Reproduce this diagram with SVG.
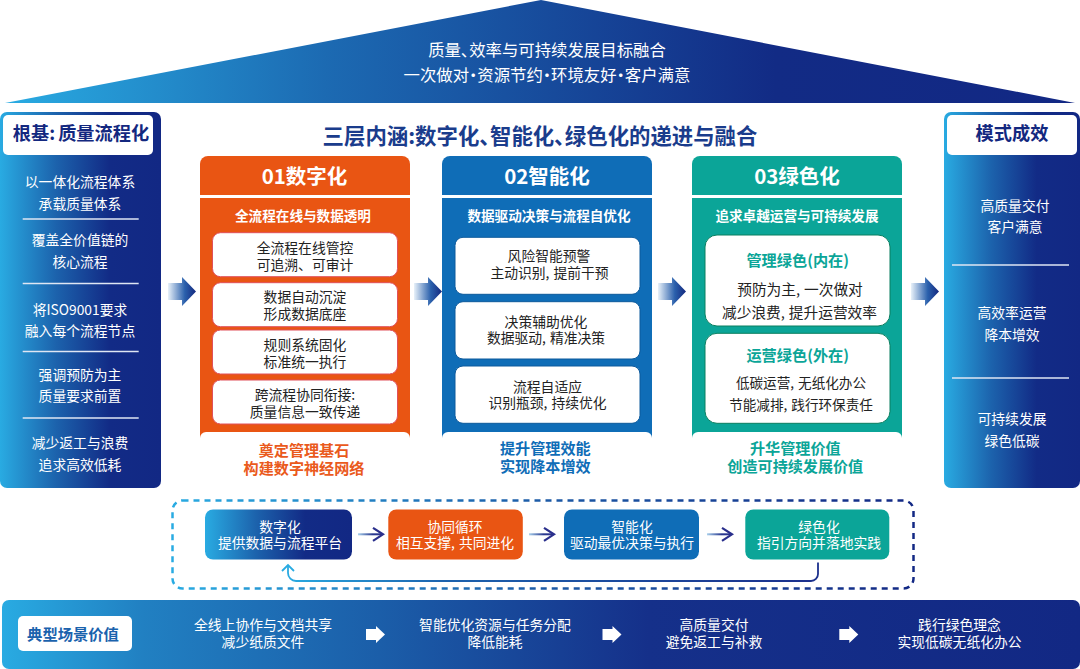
<svg xmlns="http://www.w3.org/2000/svg" width="1080" height="669" viewBox="0 0 1080 669">
<style>
text{font-family:"Noto Sans CJK SC","Noto Sans",sans-serif;text-anchor:middle}
.w13{font-size:13.800px;fill:#fff}
.k13{font-size:13.800px;fill:#222}
.k15{font-size:14.700px;fill:#222}
.k14{font-size:13.600px;fill:#222}
.h20{font-size:20.500px;font-weight:700;fill:#fff}
.s13{font-size:13.600px;font-weight:700;fill:#fff}
.f14{font-size:15.100px;font-weight:700}
.g15{font-size:15.200px;font-weight:700;fill:#0ba598}
.hd{font-size:18.200px;font-weight:700;fill:#13287f}
.roof{font-size:16.400px;fill:#fff;font-feature-settings:"palt"}
.c{letter-spacing:4px}
.box{fill:#fff;stroke-width:1}
.div{stroke:#dfe6f3;stroke-width:1.500}
</style>
<defs>
<linearGradient id="roof" x1="0" x2="1" y1="0" y2="0"><stop offset="0" stop-color="#29abe2"/><stop offset=".3" stop-color="#1c6ab2"/><stop offset=".72" stop-color="#122b85"/><stop offset="1" stop-color="#122884"/></linearGradient>
<linearGradient id="panel" x1="0" x2="1" y1="0" y2="0"><stop offset="0" stop-color="#29abe2"/><stop offset=".35" stop-color="#1c62ac"/><stop offset=".68" stop-color="#122b86"/><stop offset="1" stop-color="#122884"/></linearGradient>
<linearGradient id="band" x1="0" x2="1" y1="0" y2="0"><stop offset="0" stop-color="#29abe2"/><stop offset=".13" stop-color="#2180c2"/><stop offset=".35" stop-color="#1b5ea9"/><stop offset=".6" stop-color="#15308a"/><stop offset="1" stop-color="#122884"/></linearGradient>
<linearGradient id="dash" gradientUnits="userSpaceOnUse" x1="172" x2="915" y1="0" y2="0"><stop offset="0" stop-color="#29abe2"/><stop offset=".5" stop-color="#1c5aa6"/><stop offset="1" stop-color="#122884"/></linearGradient>
<linearGradient id="loop" gradientUnits="userSpaceOnUse" x1="285" x2="820" y1="0" y2="0"><stop offset="0" stop-color="#29abe2"/><stop offset=".3" stop-color="#1c62ad"/><stop offset="1" stop-color="#1b2f8c"/></linearGradient>
<linearGradient id="arr" x1="0" x2="1" y1="0" y2="0"><stop offset="0" stop-color="#e8f1f9"/><stop offset=".6" stop-color="#2a60ac"/><stop offset="1" stop-color="#14287f"/></linearGradient>
<linearGradient id="thin" x1="0" x2="1" y1="0" y2="0"><stop offset="0" stop-color="#a8d0ec"/><stop offset=".6" stop-color="#2a3a90"/><stop offset="1" stop-color="#2a2f8c"/></linearGradient>
<path id="bigArrow" d="M0,-8.500H14V-14.500L28,0L14,14.500V8.500H0Z" fill="url(#arr)"/>
<path id="whiteArrow" d="M0,-5.500H10V-8.500L19,0L10,8.500V5.500H0Z" fill="#fff"/>
<g id="thinArrow"><path d="M0,-1H24V1H0Z" fill="url(#thin)"/><path d="M15,-6.500L25,0L15,6.500" fill="none" stroke="#2a2f8c" stroke-width="2.200"/></g>
</defs>

<g id="roof-node">
<path d="M5,103L541,0L1075,103Z" fill="url(#roof)"/>
<text class="roof" x="547" y="55.500">质量、效率与可持续发展目标融合</text>
<text class="roof" x="547" y="80.500">一次做对·资源节约·环境友好·客户满意</text>
</g>

<text id="title" x="540" y="143.500" style="font-size:21.400px;font-weight:700;fill:#1a3c8c;font-feature-settings:'palt'">三层内涵:数字化、智能化、绿色化的递进与融合</text>

<g id="left-panel">
<rect x="0" y="112" width="161" height="376" rx="7" fill="url(#panel)"/>
<rect x="3" y="115" width="150" height="40" rx="5" fill="#fff"/>
<text class="hd" x="81" y="140">根基<tspan style="letter-spacing:3px">:</tspan>质量流程化</text>
<text class="w13" x="80" y="187">以一体化流程体系</text><text class="w13" x="80" y="209">承载质量体系</text>
<line class="div" x1="22.700" x2="138.700" y1="219" y2="219"/>
<text class="w13" x="80" y="245">覆盖全价值链的</text><text class="w13" x="80" y="267">核心流程</text>
<line class="div" x1="22.700" x2="138.700" y1="283.500" y2="283.500"/>
<text class="w13" x="80" y="314.500">将ISO9001要求</text><text class="w13" x="80" y="336">融入每个流程节点</text>
<line class="div" x1="22.700" x2="138.700" y1="351.500" y2="351.500"/>
<text class="w13" x="80" y="379.500">强调预防为主</text><text class="w13" x="80" y="401">质量要求前置</text>
<line class="div" x1="22.700" x2="138.700" y1="418" y2="418"/>
<text class="w13" x="80" y="448">减少返工与浪费</text><text class="w13" x="80" y="469.500">追求高效低耗</text>
</g>

<g id="right-panel">
<rect x="944" y="112" width="136" height="376" rx="7" fill="url(#panel)"/>
<rect x="947" y="115" width="130" height="40" rx="5" fill="#fff"/>
<text class="hd" x="1012" y="139.500">模式成效</text>
<text class="w13" x="1015" y="210.500">高质量交付</text><text class="w13" x="1015" y="232">客户满意</text>
<line class="div" x1="952" x2="1069" y1="265" y2="265"/>
<text class="w13" x="1012" y="318">高效率运营</text><text class="w13" x="1012" y="340">降本增效</text>
<line class="div" x1="952" x2="1069" y1="378" y2="378"/>
<text class="w13" x="1012" y="424">可持续发展</text><text class="w13" x="1012" y="446">绿色低碳</text>
</g>

<g id="card-01">
<path d="M200,195V164a8,8 0 0 1 8,-8H402a8,8 0 0 1 8,8V195Z" fill="#e95513"/>
<rect x="200" y="198" width="210" height="240" fill="#e95513"/>
<text class="h20" x="304.500" y="183.500">01数字化</text>
<text class="s13" x="303" y="221">全流程在线与数据透明</text>
<rect class="box" x="212.500" y="232.700" width="185" height="44" rx="8" stroke="#e0505a"/>
<text class="k13" x="305" y="253">全流程在线管控</text><text class="k13" x="305" y="269.500">可追溯、可审计</text>
<rect class="box" x="212.500" y="282.700" width="185" height="44" rx="8" stroke="#e0505a"/>
<text class="k13" x="305" y="302">数据自动沉淀</text><text class="k13" x="305" y="318.500">形成数据底座</text>
<rect class="box" x="212.500" y="330" width="185" height="44" rx="8" stroke="#e0505a"/>
<text class="k13" x="305" y="350">规则系统固化</text><text class="k13" x="305" y="367">标准统一执行</text>
<rect class="box" x="212.500" y="380" width="185" height="44" rx="8" stroke="#e0505a"/>
<text class="k13" x="305" y="400">跨流程协同衔接:</text><text class="k13" x="305" y="417">质量信息一致传递</text>
<path d="M200,438V442H410V438a6,6 0 0 0 -6,-6H206a6,6 0 0 0 -6,6Z" fill="#fff"/>
<text class="f14" x="304" y="455.500" fill="#ea5a1c">奠定管理基石</text><text class="f14" x="304" y="473.500" fill="#ea5a1c">构建数字神经网络</text>
</g>

<g id="card-02">
<path d="M442,195V164a8,8 0 0 1 8,-8H644a8,8 0 0 1 8,8V195Z" fill="#0f6db7"/>
<rect x="442" y="198" width="210" height="240" fill="#0f6db7"/>
<text class="h20" x="547" y="183.500">02智能化</text>
<text class="s13" x="549" y="221">数据驱动决策与流程自优化</text>
<rect class="box" x="455" y="237.300" width="185" height="57" rx="8" stroke="#0d5a9c"/>
<text class="k13" x="549" y="261">风险智能预警</text><text class="k13" x="549.500" y="277.500">主动识别<tspan class="c">,</tspan>提前干预</text>
<rect class="box" x="455" y="301.700" width="185" height="57.300" rx="8" stroke="#0d5a9c"/>
<text class="k13" x="546" y="326.500">决策辅助优化</text><text class="k13" x="546" y="343">数据驱动<tspan class="c">,</tspan>精准决策</text>
<rect class="box" x="455" y="366" width="185" height="57.300" rx="8" stroke="#0d5a9c"/>
<text class="k13" x="547.500" y="391.500">流程自适应</text><text class="k13" x="547.500" y="408">识别瓶颈<tspan class="c">,</tspan>持续优化</text>
<path d="M442,438V442H652V438a6,6 0 0 0 -6,-6H448a6,6 0 0 0 -6,6Z" fill="#fff"/>
<text class="f14" x="545.300" y="453.500" fill="#0f6db7">提升管理效能</text><text class="f14" x="545.300" y="471.500" fill="#0f6db7">实现降本增效</text>
</g>

<g id="card-03">
<path d="M692,195V164a8,8 0 0 1 8,-8H894a8,8 0 0 1 8,8V195Z" fill="#0ba598"/>
<rect x="692" y="198" width="210" height="240" fill="#0ba598"/>
<text class="h20" x="797" y="183.500">03绿色化</text>
<text class="s13" x="797" y="221">追求卓越运营与可持续发展</text>
<rect class="box" x="705" y="235" width="185" height="91" rx="12" stroke="#0b7f60"/>
<text class="g15" x="797.700" y="266">管理绿色(内在)</text>
<text class="k15" x="800" y="294.500">预防为主<tspan class="c">,</tspan>一次做对</text><text class="k15" x="799.500" y="318">减少浪费<tspan class="c">,</tspan>提升运营效率</text>
<rect class="box" x="705" y="333.300" width="185" height="90" rx="12" stroke="#0b7f60"/>
<text class="g15" x="797.700" y="360.500">运营绿色(外在)</text>
<text class="k14" x="801" y="388">低碳运营<tspan class="c">,</tspan>无纸化办公</text><text class="k14" x="801" y="409.500">节能减排<tspan class="c">,</tspan>践行环保责任</text>
<path d="M692,438V442H902V438a6,6 0 0 0 -6,-6H698a6,6 0 0 0 -6,6Z" fill="#fff"/>
<text class="f14" x="795.300" y="453.500" fill="#0ba598">升华管理价值</text><text class="f14" x="795.300" y="471.500" fill="#0ba598">创造可持续发展价值</text>
</g>

<g id="flow-arrows">
<use href="#bigArrow" x="168" y="291.500"/>
<use href="#bigArrow" x="414" y="291.500"/>
<use href="#bigArrow" x="658" y="291.500"/>
<use href="#bigArrow" x="911" y="291.500"/>
</g>

<rect id="cycle-frame" x="172.500" y="500.500" width="741" height="88" rx="10" fill="none" stroke="url(#dash)" stroke-width="2.500" stroke-dasharray="6 5"/>

<g id="step-digital">
<rect x="205" y="509.500" width="147" height="50" rx="8" fill="url(#panel)"/>
<text class="w13" x="280" y="531.500">数字化</text><text class="w13" x="280" y="547.500">提供数据与流程平台</text>
</g>
<g id="step-cycle">
<rect x="388.300" y="509.500" width="134.500" height="50" rx="8" fill="#e95513"/>
<text class="w13" x="455" y="531.500">协同循环</text><text class="w13" x="455" y="547.500">相互支撑<tspan class="c">,</tspan>共同进化</text>
</g>
<g id="step-smart">
<rect x="564" y="509.500" width="135" height="50" rx="8" fill="#0f6db7"/>
<text class="w13" x="632" y="531.500">智能化</text><text class="w13" x="632" y="547.500">驱动最优决策与执行</text>
</g>
<g id="step-green">
<rect x="745.300" y="509.500" width="144" height="50" rx="8" fill="#0ba598"/>
<text class="w13" x="819" y="531.500">绿色化</text><text class="w13" x="819" y="547.500">指引方向并落地实践</text>
</g>

<g id="connectors">
<use href="#thinArrow" x="358" y="534.300"/>
<use href="#thinArrow" x="529" y="534.300"/>
<use href="#thinArrow" x="707" y="534.300"/>
<path d="M818,562.500V574a7,7 0 0 1 -7,7H296a8,8 0 0 1 -8,-8V566" fill="none" stroke="url(#loop)" stroke-width="1.800"/>
<path d="M282,571L288,565L294,571" fill="none" stroke="#29abe2" stroke-width="1.800"/>
</g>

<g id="scenario-band">
<rect x="2" y="600" width="1078" height="69" rx="7" fill="url(#band)"/>
<rect x="18" y="616" width="114" height="35" rx="5" fill="#fff"/>
<text x="73" y="639.500" style="font-size:15.300px;font-weight:700;fill:#1a62ad">典型场景价值</text>
<text class="w13" x="263" y="630">全线上协作与文档共享</text><text class="w13" x="263" y="646.500">减少纸质文件</text>
<text class="w13" x="495" y="630">智能优化资源与任务分配</text><text class="w13" x="495" y="646.500">降低能耗</text>
<text class="w13" x="714" y="630">高质量交付</text><text class="w13" x="714" y="646.500">避免返工与补救</text>
<text class="w13" x="959.500" y="630">践行绿色理念</text><text class="w13" x="959.500" y="646.500">实现低碳无纸化办公</text>
<use href="#whiteArrow" x="366" y="634.500"/>
<use href="#whiteArrow" x="602.500" y="634.500"/>
<use href="#whiteArrow" x="839.300" y="634.500"/>
</g>
</svg>
